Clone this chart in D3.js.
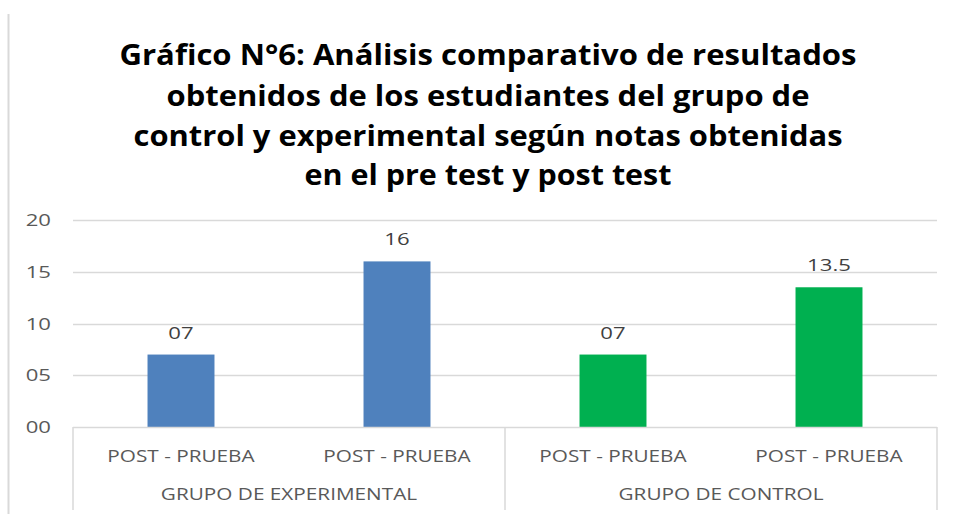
<!DOCTYPE html>
<html><head><meta charset="utf-8">
<script src="https://cdn.jsdelivr.net/npm/d3@7"></script>
<style>body{margin:0;background:#fff}svg{display:block}</style>
</head><body>
<svg id="c" width="956" height="514"></svg>
<script>
const titleLines = ["Gráfico N°6: Análisis comparativo de resultados","obtenidos de los estudiantes del grupo de","control y experimental según notas obtenidas","en el pre test y post test"];
const categories = ["c1","c2","c3","c4"];
const tickLabels = ["POST - PRUEBA","POST - PRUEBA","POST - PRUEBA","POST - PRUEBA"];
const groups = ["GRUPO DE EXPERIMENTAL","GRUPO DE CONTROL"];
const values = [7, 16, 7, 13.5];
const valueLabels = ["07","16","07","13.5"];
const colors = ["#4f81bd","#4f81bd","#00b050","#00b050"];
const yTicks = [0,5,10,15,20];
const yTickLabels = ["00","05","10","15","20"];

const svg = d3.select("#c");
const font = "'Open Sans', 'Noto Sans', sans-serif";
const L = 73, R = 937, T = 220, B = 427;
const x = d3.scaleBand().domain(categories).range([L,R]).paddingInner(0.69).paddingOuter(0.345);
const y = d3.scaleLinear().domain([0,20]).range([B,T]);

// horizontal stretch helper (reference text is wide)
function stretch(sel, f){
  sel.each(function(){
    const w = this.getComputedTextLength();
    d3.select(this).attr("textLength", w*f).attr("lengthAdjust","spacingAndGlyphs");
  });
}

// left border
svg.append("line").attr("x1",8.5).attr("x2",8.5).attr("y1",14).attr("y2",514).attr("stroke","#d9d9d9").attr("stroke-width",2);

// title
const titleW = [737,643,709,367];
const tb = [65,106,146,185];
svg.append("g").selectAll("text").data(titleLines).join("text")
  .attr("x",488).attr("y",(d,i)=>tb[i]).attr("text-anchor","middle")
  .attr("font-family","'Open Sans', sans-serif").attr("font-weight","bold").attr("font-size",29)
  .attr("fill","#000")
  .attr("textLength",(d,i)=>titleW[i]).attr("lengthAdjust","spacingAndGlyphs")
  .text(d=>d);

// gridlines
svg.append("g").selectAll("line").data(yTicks.filter(d=>d>0)).join("line")
  .attr("x1",L).attr("x2",R).attr("y1",d=>Math.round(y(d))+0.5).attr("y2",d=>Math.round(y(d))+0.5)
  .attr("stroke","#d9d9d9").attr("stroke-width",1.3);

// y labels
svg.append("g").selectAll("text").data(yTicks).join("text")
  .attr("x",51).attr("y",d=>y(d)).attr("dy","0.36em").attr("text-anchor","end")
  .attr("font-family",font).attr("font-size",17).attr("fill","#595959")
  .text((d,i)=>yTickLabels[i]).call(stretch,1.3);

// bars
svg.append("g").selectAll("rect").data(values).join("rect")
  .attr("x",(d,i)=>x(categories[i])).attr("width",x.bandwidth())
  .attr("y",d=>y(d)).attr("height",d=>B-y(d)).attr("fill",(d,i)=>colors[i]);

// value labels
svg.append("g").selectAll("text").data(values).join("text")
  .attr("x",(d,i)=>x(categories[i])+x.bandwidth()/2).attr("y",d=>y(d)-16)
  .attr("text-anchor","middle")
  .attr("font-family",font).attr("font-size",17).attr("fill","#404040")
  .text((d,i)=>valueLabels[i]).call(stretch,1.3);

// axis
const ax = svg.append("g").attr("stroke","#d9d9d9").attr("stroke-width",1.5);
ax.append("line").attr("x1",L).attr("x2",R).attr("y1",B+0.5).attr("y2",B+0.5);
const mid = (L+R)/2;
[L, mid, R].forEach(xx=>{
  ax.append("line").attr("x1",xx).attr("x2",xx).attr("y1",B).attr("y2",510);
});
svg.append("g").selectAll("text").data(tickLabels).join("text")
  .attr("x",(d,i)=>x(categories[i])+x.bandwidth()/2).attr("y",462)
  .attr("text-anchor","middle").attr("font-family",font).attr("font-size",17).attr("fill","#595959")
  .text(d=>d).call(stretch,1.22);
svg.append("g").selectAll("text").data(groups).join("text")
  .attr("x",(d,i)=>L+(i+0.5)*(R-L)/2).attr("y",500)
  .attr("text-anchor","middle").attr("font-family",font).attr("font-size",17).attr("fill","#595959")
  .text(d=>d).call(stretch,1.22);
</script>
</body></html>
